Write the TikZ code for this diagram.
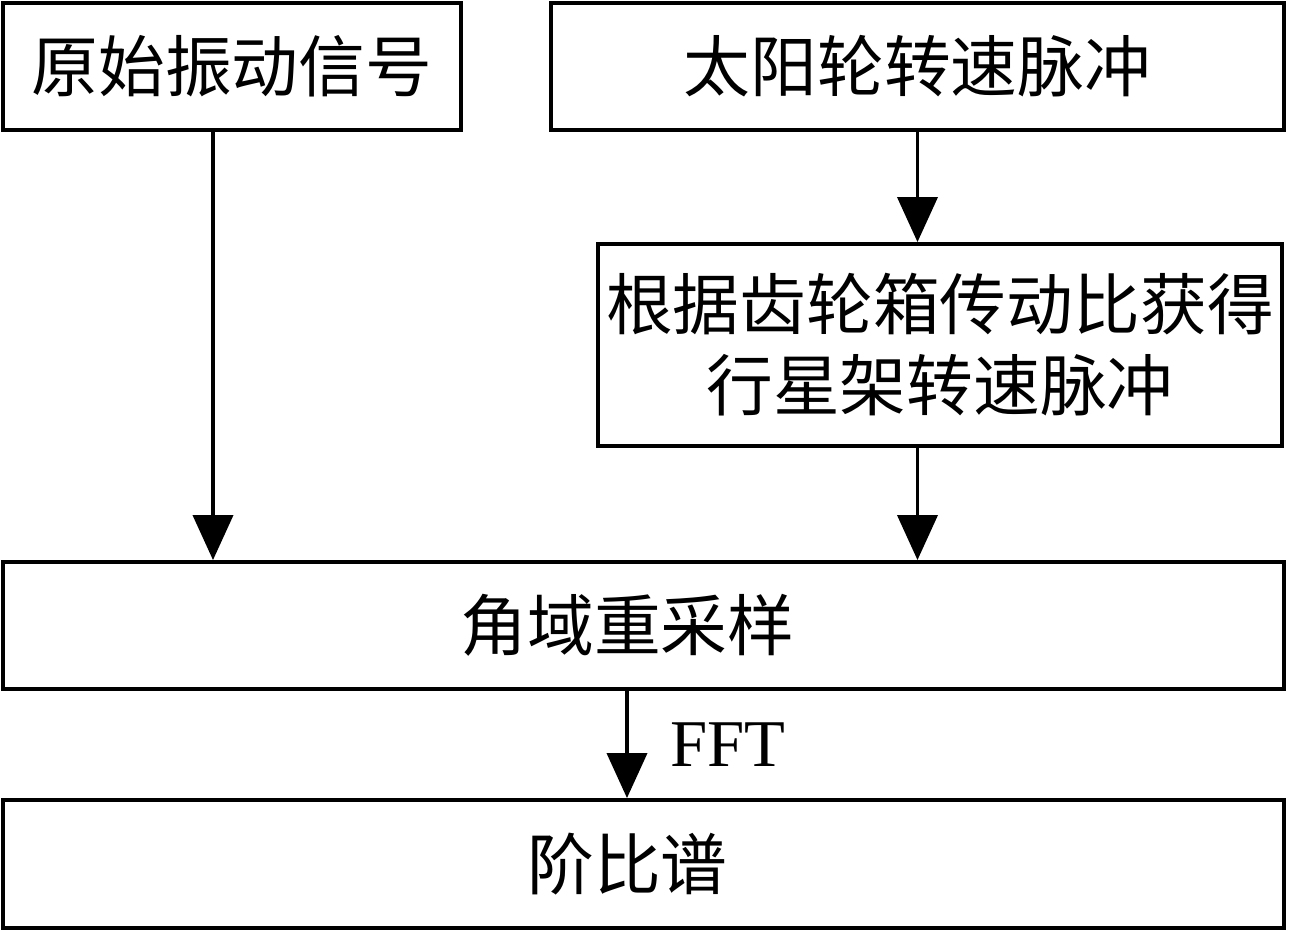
\documentclass[tikz,border=0pt]{standalone}
\usepackage{fontspec}
\setmainfont{Liberation Serif}
\newfontfamily\cjk{Noto Sans CJK SC}
\usetikzlibrary{arrows.meta}

\begin{document}
\begin{tikzpicture}[
    box/.style={draw, line width=1.1pt, inner sep=0pt, font=\cjk\fontsize{19}{23}\selectfont, align=center},
    flow/.style={-{Triangle[width=0.4cm,length=0.45cm]}, line width=1.1pt}
]
    \useasboundingbox (0,0) rectangle (13.12,-9.32);

    % input boxes
    \node[box, minimum width=4.58cm, minimum height=1.27cm] (raw) at (2.32,-0.665) {原始振动信号};
    \node[box, minimum width=7.33cm, minimum height=1.27cm] (sun) at (9.175,-0.665) {太阳轮转速脉冲};
    \node[box, minimum width=6.84cm, minimum height=2.02cm] (carrier) at (9.40,-3.45) {根据齿轮箱传动比获得\\行星架转速脉冲};

    % processing boxes
    \node[box, minimum width=12.81cm, minimum height=1.27cm] (resample) at (6.435,-6.255) {角域重采样\hspace*{0.32cm}};
    \node[box, minimum width=12.81cm, minimum height=1.28cm] (order) at (6.435,-8.64) {阶比谱\hspace*{0.32cm}};

    \coordinate (rawx) at (2.13,0);
    \coordinate (fftx) at (6.27,0);

    \draw[flow] (raw.south -| rawx) -- (resample.north -| rawx);
    \draw[flow] (sun.south) -- (sun.south |- carrier.north);
    \draw[flow] (carrier.south -| sun.south) -- (resample.north -| sun.south);
    \draw[flow] (resample.south -| fftx) -- (order.north -| fftx)
        node[midway, right=0.3cm, font=\fontsize{19}{23}\selectfont] (fft) {FFT};
\end{tikzpicture}
\end{document}
